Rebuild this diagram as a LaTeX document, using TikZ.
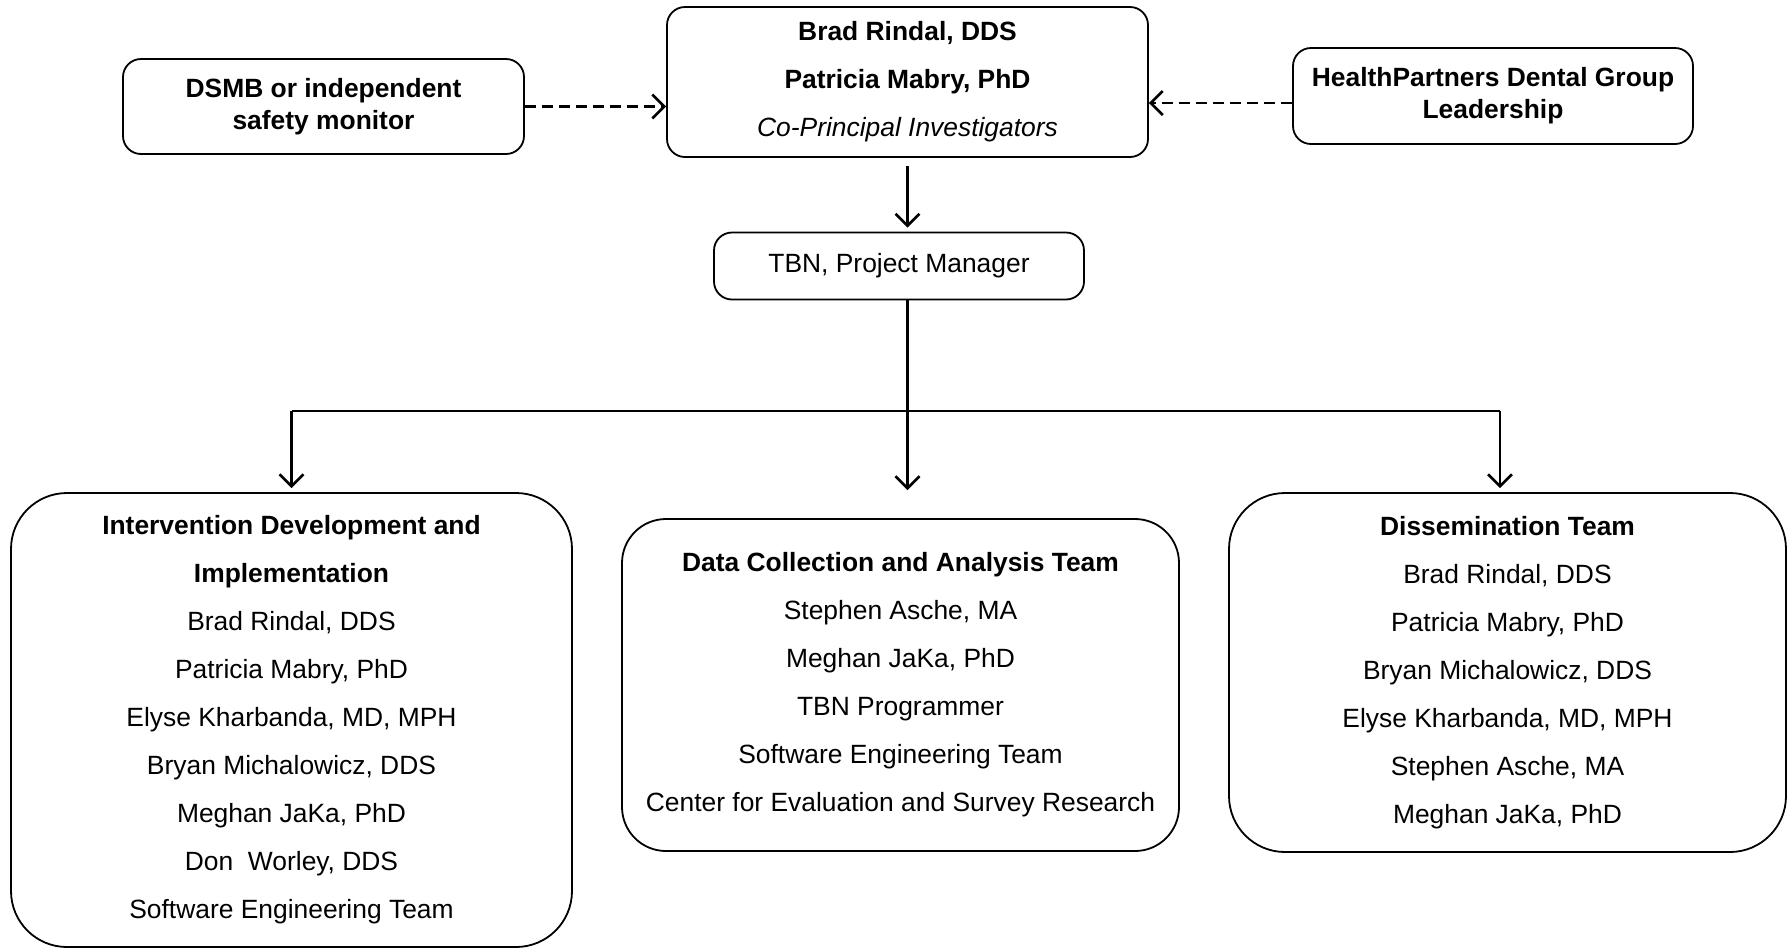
\documentclass[tikz,border=0pt]{standalone}
\usepackage{fontspec}
\setmainfont{Liberation Sans}
\usetikzlibrary{positioning,arrows.meta}

\tikzstyle{arrow} = [line width=1.2pt,-{Straight Barb[length=6pt,width=12pt,line width=1.3pt]}]
\tikzstyle{dasharrow} = [arrow,dash pattern=on 5.5pt off 3pt]
\tikzstyle{box} = [draw,line width=0.9pt,rounded corners=9pt,align=center,inner sep=0pt,font=\fontsize{13.2}{16}\selectfont]
\tikzstyle{team} = [box,rounded corners=28pt,font=\fontsize{13.2}{24}\selectfont]

\begin{document}
\begin{tikzpicture}[x=0.5pt,y=-0.5pt,node distance=292pt]
\useasboundingbox (0,0) rectangle (1789,949);

\node (pi) [box, minimum width=240.5pt, minimum height=75pt, font=\fontsize{13.2}{24}\selectfont] at (907.5,82) {\textbf{Brad Rindal, DDS}\\\textbf{Patricia Mabry, PhD}\\\textit{Co-Principal Investigators}};
\node (dsmb) [box, left of=pi, yshift=-12.25pt, minimum width=200.5pt, minimum height=47.5pt, font=\bfseries\fontsize{13.2}{16}\selectfont] {DSMB or independent\\safety monitor};
\node (hp) [box, right of=pi, xshift=0.75pt, yshift=-7pt, minimum width=200pt, minimum height=48pt, font=\bfseries\fontsize{13.2}{16}\selectfont] {HealthPartners Dental Group\\Leadership};
\node (tbn) [box, node distance=92pt, below of=pi, xshift=-4.25pt, minimum width=185pt, minimum height=33.5pt] {TBN, Project Manager};

\node (mid) [team, node distance=209.5pt, below of=tbn, xshift=0.75pt, rounded corners=22pt, minimum width=278.5pt, minimum height=166pt] {\textbf{Data Collection and Analysis Team}\\Stephen Asche, MA\\Meghan JaKa, PhD\\TBN Programmer\\Software Engineering Team\\Center for Evaluation and Survey Research};
\node (left) [team, node distance=304.5pt, left of=mid, yshift=-17.5pt, minimum width=280.5pt, minimum height=227pt] {\textbf{Intervention Development and}\\\textbf{Implementation}\\Brad Rindal, DDS\\Patricia Mabry, PhD\\Elyse Kharbanda, MD, MPH\\Bryan Michalowicz, DDS\\Meghan JaKa, PhD\\Don~~Worley, DDS\\Software Engineering Team};
\node (right) [team, node distance=303.5pt, right of=mid, yshift=6.25pt, minimum width=278.5pt, minimum height=179.5pt] {\textbf{Dissemination Team}\\Brad Rindal, DDS\\Patricia Mabry, PhD\\Bryan Michalowicz, DDS\\Elyse Kharbanda, MD, MPH\\Stephen Asche, MA\\Meghan JaKa, PhD};

\coordinate (forkrow) at (0,411);
\coordinate (tiprow) at (0,490);
\coordinate (fork) at (pi.south |- forkrow);
\coordinate (midtip) at (pi.south |- tiprow);

\draw [dasharrow] (dsmb) -- (dsmb -| pi.west);
\draw [dasharrow] ([yshift=-3.5pt]hp.west) -- ([yshift=-3.5pt]hp.west -| pi.east);
\draw [arrow, shorten <=4pt, shorten >=2pt] (pi.south) -- (pi.south |- tbn.north);
\draw [arrow] (pi.south |- tbn.south) -- (midtip);
\draw [line width=1.2pt] (left.north |- fork) -- ([xshift=-3.75pt]right.north |- fork);
\draw [arrow, shorten >=2pt] (left.north |- fork) -- (left.north);
\draw [arrow, shorten >=2pt] ([xshift=-3.75pt]right.north |- fork) -- ([xshift=-3.75pt]right.north);

\end{tikzpicture}
\end{document}
